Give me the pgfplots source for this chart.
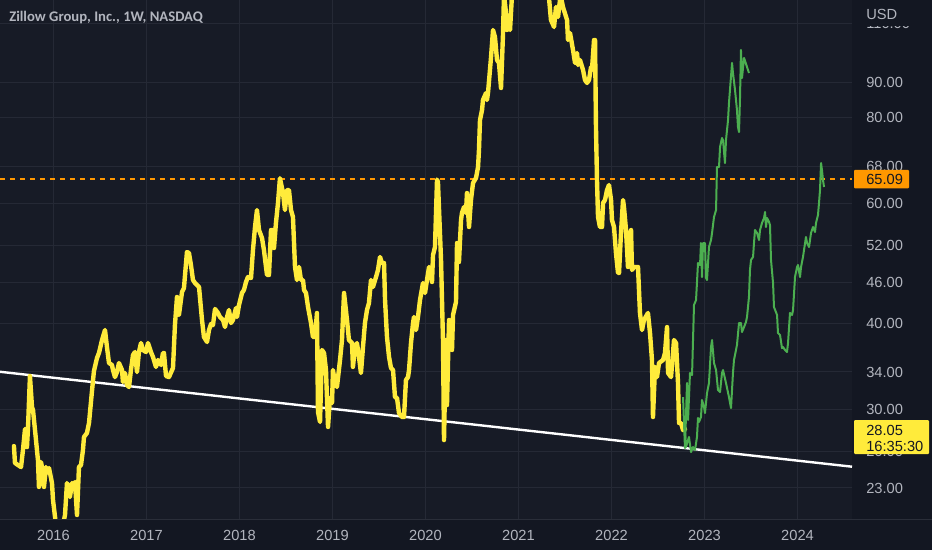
\documentclass[border=0pt]{standalone}
\usepackage{pgfplots}
\pgfplotsset{compat=1.18}
\usepackage{fontspec}
\setmainfont{Liberation Sans}
\newfontfamily\titlefont{Carlito}
\definecolor{bgout}{HTML}{131722}
\definecolor{bgplot}{HTML}{171B26}
\definecolor{gridc}{HTML}{252935}
\definecolor{sepc}{HTML}{2A2E39}
\definecolor{tickc}{HTML}{B2B5BE}
\definecolor{zyellow}{HTML}{FFEB3B}
\definecolor{zgreen}{HTML}{4CAF50}
\definecolor{zorange}{HTML}{FF9800}
\begin{document}
\begin{tikzpicture}
\fill[bgout] (0pt,-23.25pt) rectangle (699pt,389.25pt);
\useasboundingbox (0pt,-23.25pt) rectangle (699pt,389.25pt);
\begin{axis}[
  at={(0pt,0pt)}, anchor=south west,
  scale only axis, width=639pt, height=389.25pt,
  ymode=log,
  xmin=2015.425, xmax=2024.586, ymin=20.72, ymax=119.0,
  axis background/.style={fill=bgplot},
  axis line style={draw=none},
  major tick length=0pt, tick style={draw=none},
  grid=major, major grid style={draw=gridc, line width=0.75pt},
  xtick={2016,2017,2018,2019,2020,2021,2022,2023,2024},
  xticklabels={2016,2017,2018,2019,2020,2021,2022,2023,2024},
  ytick={23,26,30,34,40,46,52,60,68,80,90,110},
  yticklabels={23.00,26.00,30.00,34.00,40.00,46.00,52.00,60.00,68.00,80.00,90.00,110.00},
  yticklabel pos=right,
  /pgf/number format/assume math mode=true,
  ticklabel style={font=\fontsize{11}{13}\selectfont, text=tickc, inner sep=0pt},
  y tick label style={anchor=west, xshift=10.5pt},
  x tick label style={anchor=north, yshift=-8.5pt},
]
% orange price line
\addplot[zorange, line width=1.1pt, dash pattern=on 4pt off 3.5pt] coordinates {(2015.425,65.09) (2024.586,65.09)};
% white trend line
\addplot[white, line width=1.8pt] coordinates {(2015.425,34.02) (2024.586,24.71)};
% yellow series
\addplot[zyellow, line width=3.3pt, line join=round, line cap=round] coordinates {
(2015.575,26.49) (2015.586,25.02) (2015.651,24.68) (2015.672,26.14) (2015.694,28.06)
(2015.715,26.40) (2015.726,28.15) (2015.747,33.54) (2015.769,30.21) (2015.780,29.91)
(2015.812,27.03) (2015.833,25.27) (2015.844,23.08) (2015.866,25.10) (2015.887,24.28)
(2015.898,23.08) (2015.919,24.68) (2015.930,24.19) (2015.952,24.60) (2015.984,23.39)
(2015.995,22.09) (2016.027,20.31) (2016.070,19.64) (2016.091,19.97) (2016.124,21.00)
(2016.145,23.39) (2016.156,23.08) (2016.177,22.31) (2016.199,23.39) (2016.210,23.08)
(2016.231,23.47) (2016.253,21.00) (2016.274,24.68) (2016.296,24.85) (2016.317,26.14)
(2016.328,27.31) (2016.360,27.68) (2016.382,28.63) (2016.414,31.88) (2016.435,34.10)
(2016.468,35.64) (2016.489,36.24) (2016.522,37.86) (2016.554,39.16) (2016.575,36.98)
(2016.597,35.04) (2016.629,34.81) (2016.640,34.22) (2016.661,33.42) (2016.683,33.99)
(2016.704,35.04) (2016.737,34.22) (2016.747,32.87) (2016.769,33.88) (2016.790,32.54)
(2016.812,32.32) (2016.833,34.22) (2016.855,36.00) (2016.876,36.36) (2016.898,33.99)
(2016.919,36.36) (2016.941,37.48) (2016.962,36.61) (2016.995,36.36) (2017.016,37.48)
(2017.048,36.36) (2017.070,35.76) (2017.102,34.58) (2017.124,35.40) (2017.156,34.81)
(2017.177,36.24) (2017.188,36.24) (2017.210,33.54) (2017.242,33.42) (2017.285,34.46)
(2017.306,39.82) (2017.328,43.77) (2017.349,41.19) (2017.382,44.51) (2017.403,45.11)
(2017.435,50.93) (2017.457,50.75) (2017.478,48.74) (2017.500,46.34) (2017.522,45.87)
(2017.543,45.57) (2017.565,45.26) (2017.597,40.50) (2017.618,38.25) (2017.651,37.61)
(2017.672,39.16) (2017.694,39.96) (2017.715,39.82) (2017.737,42.03) (2017.769,41.47)
(2017.790,40.91) (2017.823,40.50) (2017.844,39.56) (2017.866,40.91) (2017.887,41.89)
(2017.909,40.09) (2017.930,40.50) (2017.962,42.17) (2017.973,40.91) (2017.995,42.60)
(2018.027,44.36) (2018.048,44.81) (2018.070,46.03) (2018.091,46.81) (2018.124,46.66)
(2018.145,51.27) (2018.167,55.40) (2018.188,58.66) (2018.210,54.84) (2018.242,53.38)
(2018.263,51.27) (2018.285,48.42) (2018.296,47.13) (2018.317,47.13) (2018.339,54.84)
(2018.360,54.84) (2018.371,51.61) (2018.392,56.15) (2018.414,60.06) (2018.435,65.30)
(2018.468,62.12) (2018.489,58.66) (2018.511,62.75) (2018.532,62.75) (2018.554,58.66)
(2018.575,57.29) (2018.597,48.42) (2018.618,46.34) (2018.640,48.42) (2018.661,46.34)
(2018.683,46.34) (2018.694,44.81) (2018.715,44.36) (2018.737,42.31) (2018.769,40.09)
(2018.790,38.25) (2018.812,38.25) (2018.833,41.47) (2018.844,29.71) (2018.866,28.73)
(2018.887,36.61) (2018.909,36.24) (2018.930,34.22) (2018.952,28.25) (2018.973,31.14)
(2018.995,30.62) (2019.005,34.22) (2019.027,32.76) (2019.048,32.32) (2019.081,35.40)
(2019.102,37.86) (2019.124,44.36) (2019.156,40.50) (2019.177,37.86) (2019.210,37.48)
(2019.220,34.58) (2019.242,36.98) (2019.263,37.48) (2019.285,35.76) (2019.306,33.88)
(2019.328,36.98) (2019.349,40.09) (2019.371,41.89) (2019.392,42.88) (2019.414,46.34)
(2019.435,45.26) (2019.468,46.81) (2019.489,47.93) (2019.511,50.08) (2019.532,49.07)
(2019.554,49.07) (2019.565,43.32) (2019.586,38.25) (2019.608,35.76) (2019.629,34.46)
(2019.651,34.22) (2019.672,31.24) (2019.694,31.14) (2019.715,29.61) (2019.747,29.21)
(2019.769,29.21) (2019.790,33.09) (2019.812,33.42) (2019.823,34.22) (2019.844,37.48)
(2019.866,40.09) (2019.876,40.91) (2019.898,39.16) (2019.919,40.91) (2019.941,43.32)
(2019.973,45.87) (2019.995,44.36) (2020.016,46.34) (2020.038,48.42) (2020.059,47.45)
(2020.070,46.03) (2020.081,50.41) (2020.102,51.78) (2020.124,65.00) (2020.134,64.46)
(2020.167,49.57) (2020.188,37.86) (2020.199,27.03) (2020.220,37.86) (2020.231,30.41)
(2020.253,40.50) (2020.285,36.61) (2020.296,41.19) (2020.328,43.03) (2020.339,52.49)
(2020.360,49.24) (2020.382,56.72) (2020.392,58.07) (2020.414,59.26) (2020.435,58.07)
(2020.446,62.12) (2020.468,55.40) (2020.489,60.67) (2020.511,64.25) (2020.543,65.34)
(2020.565,67.80) (2020.575,71.80) (2020.586,79.44) (2020.608,82.16) (2020.618,84.97)
(2020.651,87.00) (2020.661,84.97) (2020.672,87.00) (2020.704,97.89) (2020.726,107.56)
(2020.747,105.06) (2020.769,97.23) (2020.790,96.25) (2020.812,88.48) (2020.833,105.76)
(2020.844,121.0) (2020.866,113.90) (2020.876,107.56) (2020.887,111.25) (2020.909,107.56)
(2020.930,121.0) (2021.005,140) (2021.070,190) (2021.134,205) (2021.199,160)
(2021.263,135) (2021.306,125) (2021.328,119.8) (2021.349,111.25) (2021.382,108.66)
(2021.403,116.23) (2021.425,112.38) (2021.446,119.0) (2021.457,120.2) (2021.478,116.23)
(2021.522,111.25) (2021.532,104.00) (2021.554,106.48) (2021.586,100.56) (2021.608,96.25)
(2021.629,99.55) (2021.640,95.61) (2021.661,97.23) (2021.694,94.01) (2021.715,90.89)
(2021.737,90.00) (2021.758,90.89) (2021.780,94.97) (2021.790,94.01) (2021.812,104.00)
(2021.823,104.00) (2021.833,77.59) (2021.844,64.90) (2021.855,57.29) (2021.876,55.40)
(2021.898,55.40) (2021.909,60.06) (2021.930,60.67) (2021.952,62.75) (2021.973,63.82)
(2021.995,60.67) (2022.005,56.72) (2022.027,55.40) (2022.048,50.75) (2022.070,47.45)
(2022.081,47.45) (2022.102,54.29) (2022.124,60.67) (2022.134,59.26) (2022.156,54.84)
(2022.177,48.42) (2022.188,52.49) (2022.210,54.84) (2022.220,47.93) (2022.242,48.42)
(2022.285,48.42) (2022.306,41.47) (2022.328,39.16) (2022.349,40.50) (2022.392,41.47)
(2022.414,38.77) (2022.435,35.40) (2022.446,29.21) (2022.468,34.58) (2022.489,33.42)
(2022.511,35.04) (2022.554,35.40) (2022.575,36.24) (2022.597,39.56) (2022.608,33.88)
(2022.640,33.42) (2022.661,36.24) (2022.672,37.86) (2022.694,37.48) (2022.715,32.76)
(2022.726,28.63) (2022.747,28.63) (2022.769,27.96) (2022.790,28.05)
};
% green series (upper path)
\addplot[zgreen, line width=1.5pt, line join=round] coordinates {
(2022.769,31.24) (2022.790,26.31) (2022.812,32.76) (2022.823,28.92) (2022.844,33.88)
(2022.866,33.65) (2022.887,42.60) (2022.909,43.32) (2022.930,49.07) (2022.952,48.74)
(2022.962,52.49) (2022.973,46.81) (2022.984,52.49) (2023.005,52.49) (2023.016,46.66)
(2023.027,46.34) (2023.048,51.78) (2023.070,53.02) (2023.081,54.29) (2023.102,57.29)
(2023.124,58.66) (2023.134,67.80) (2023.156,67.80) (2023.167,72.53) (2023.188,74.77)
(2023.199,74.26) (2023.220,68.72) (2023.231,74.26) (2023.253,79.44) (2023.263,84.11)
(2023.296,96.25) (2023.306,93.06) (2023.328,87.88) (2023.349,82.16) (2023.360,77.59)
(2023.371,76.29) (2023.382,85.83) (2023.392,100.56) (2023.403,91.51) (2023.425,97.89)
(2023.457,94.97) (2023.478,93.06)
};
% green series (lower path)
\addplot[zgreen, line width=1.5pt, line join=round] coordinates {
(2022.780,28.92) (2022.801,26.40) (2022.833,27.31) (2022.855,25.96) (2022.876,26.40)
(2022.898,26.14) (2022.919,27.31) (2022.930,29.12) (2022.941,28.73) (2022.962,29.21)
(2022.973,30.93) (2022.995,30.21) (2023.005,29.61) (2023.027,31.67) (2023.048,32.76)
(2023.070,36.98) (2023.081,37.86) (2023.102,35.04) (2023.124,34.22) (2023.145,31.99)
(2023.167,31.78) (2023.188,33.88) (2023.199,34.22) (2023.231,32.76) (2023.263,31.24)
(2023.285,30.11) (2023.306,33.88) (2023.317,35.40) (2023.349,37.23) (2023.371,40.09)
(2023.392,40.09) (2023.403,38.90) (2023.425,39.56) (2023.446,40.23) (2023.457,40.91)
(2023.478,43.77) (2023.489,47.93) (2023.500,49.57) (2023.522,50.08) (2023.532,52.49)
(2023.543,54.84) (2023.565,54.29) (2023.586,53.02) (2023.597,54.84) (2023.618,56.15)
(2023.640,57.10) (2023.651,58.27) (2023.661,55.40) (2023.672,57.10) (2023.694,56.34)
(2023.704,55.77) (2023.715,49.57) (2023.737,45.87) (2023.747,42.31) (2023.780,41.19)
(2023.790,38.77) (2023.812,38.51) (2023.833,36.85) (2023.844,36.98) (2023.866,36.61)
(2023.887,36.36) (2023.898,37.48) (2023.919,41.47) (2023.941,41.19) (2023.952,41.89)
(2023.973,46.81) (2023.995,48.42) (2024.005,48.74) (2024.027,46.81) (2024.038,48.42)
(2024.059,50.08) (2024.070,51.27) (2024.091,53.56) (2024.102,52.49) (2024.124,51.78)
(2024.145,54.29) (2024.167,55.40) (2024.188,54.47) (2024.199,56.15) (2024.220,57.68)
(2024.231,60.06) (2024.242,62.75) (2024.253,68.72) (2024.263,67.12) (2024.274,64.90)
(2024.285,63.39)
};
\coordinate (o65) at (axis cs:2024.586,65.09);
\coordinate (o28) at (axis cs:2024.586,28.05);
\end{axis}
% separator lines
\draw[sepc, line width=0.75pt] (0pt,0pt) -- (699pt,0pt);
% USD header cover
\fill[bgout] (639.5pt,369.75pt) rectangle (699pt,389.25pt);
\node[anchor=west, inner sep=0pt, text=tickc, font=\fontsize{11}{13}\selectfont] at (649.5pt,378.75pt) {USD};
% title
\node[anchor=west, inner sep=0pt, text=tickc, font=\titlefont\bfseries\fontsize{11}{13}\selectfont] at (6.75pt,375.75pt) {Zillow Group, Inc., 1W, NASDAQ};
% price boxes
\fill[zorange, rounded corners=0.8pt] ([xshift=1.5pt,yshift=-7pt]o65) rectangle ([xshift=42.75pt,yshift=7pt]o65);
\node[anchor=west, inner sep=0pt, text=bgout, font=\fontsize{11}{13}\selectfont] at ([xshift=10.5pt]o65) {65.09};
\fill[zyellow, rounded corners=0.8pt] ([xshift=1.5pt,yshift=6.75pt]o28) rectangle ([xshift=57.75pt,yshift=-18.75pt]o28);
\node[anchor=west, inner sep=0pt, text=bgout, font=\fontsize{11}{13}\selectfont] at ([xshift=10.5pt,yshift=-0.75pt]o28) {28.05};
\node[anchor=west, inner sep=0pt, text=bgout, font=\fontsize{11}{13}\selectfont] at ([xshift=10.5pt,yshift=-12.75pt]o28) {16:35:30};
\end{tikzpicture}
\end{document}
